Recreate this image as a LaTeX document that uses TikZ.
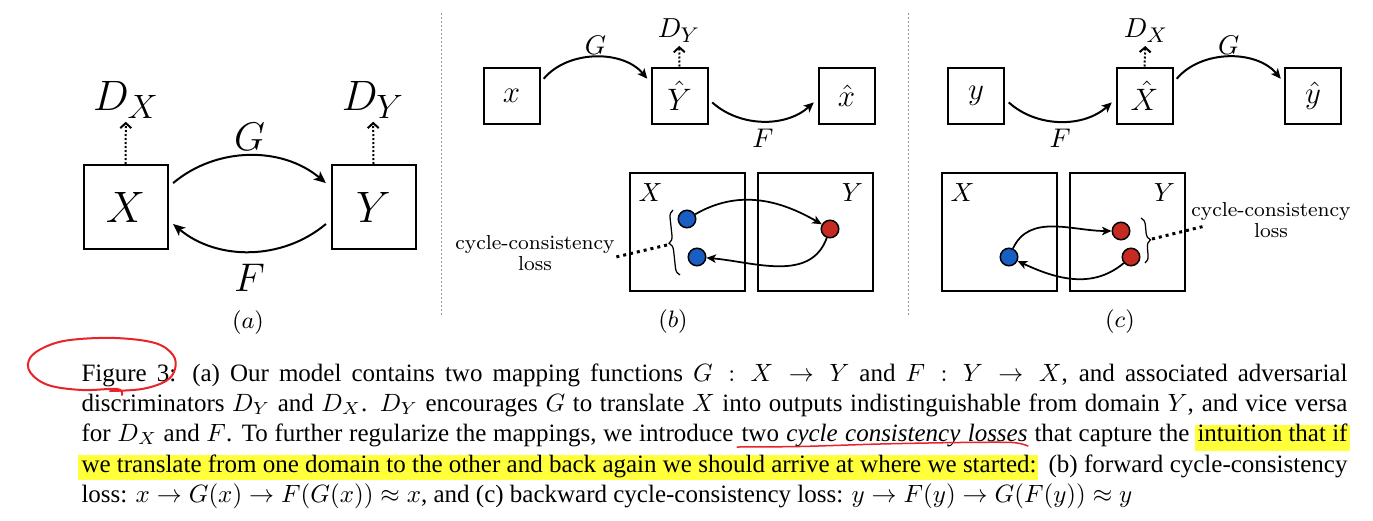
\RequirePackage{fix-cm}
\documentclass[tikz,border=0pt]{standalone}
\usepackage{fontspec}
\usepackage{amsmath}
\usetikzlibrary{arrows.meta,positioning,calc,decorations.pathreplacing}
\newfontfamily\capfont{Liberation Serif}
\definecolor{cdotb}{HTML}{1A5EC4}
\definecolor{cdotr}{HTML}{C62B22}
\definecolor{chl}{HTML}{FFFF3A}
\definecolor{cpen}{HTML}{E8232A}
\newdimen\pxu \pxu=0.4pt
\newcommand{\seg}[2]{\makebox[#1\pxu][s]{#2}}
\newcommand{\dlab}[2]{$D_{\mbox{\fontsize{#2}{#2}\selectfont$#1$}}$}
\tikzset{
  dombox/.style={draw, line width=0.8pt, minimum size=33.6pt, inner sep=0pt, font=\fontsize{17.6}{17.6}\selectfont},
  smbox/.style={draw, line width=0.8pt, minimum size=22.4pt, inner sep=0pt, font=\fontsize{12.4}{12.4}\selectfont},
  setbox/.style={draw, line width=0.8pt, minimum width=46pt, minimum height=47.2pt, inner sep=0pt},
  maplbl/.style={font=\fontsize{16}{16}\selectfont, inner sep=1pt},
  smaplbl/.style={font=\fontsize{10.8}{10.8}\selectfont, inner sep=1pt},
  dlbl/.style={font=\fontsize{17}{17}\selectfont, inner sep=1pt},
  sdlbl/.style={font=\fontsize{11}{11}\selectfont, inner sep=1pt},
  setlbl/.style={font=\fontsize{10.5}{10.5}\selectfont, inner sep=0pt},
  sublbl/.style={font=\fontsize{9.5}{9.5}\selectfont, inner sep=0pt},
  losslbl/.style={font=\fontsize{8.1}{8.3}\selectfont, align=center, inner sep=0pt},
  pnt/.style={circle, draw, line width=0.6pt, minimum size=7pt, inner sep=0pt},
  bpt/.style={pnt, fill=cdotb},
  rpt/.style={pnt, fill=cdotr},
  map/.style={-{Stealth[length=4.8pt,width=4.2pt,inset=1.2pt]}, line width=0.8pt, shorten <=2.4pt, shorten >=2.4pt},
  smap/.style={-{Stealth[length=4pt,width=3.6pt,inset=1pt]}, line width=0.8pt, shorten <=2pt, shorten >=2pt},
  dmap/.style={-{Stealth[length=3.8pt,width=3.4pt,inset=1pt]}, line width=0.7pt},
  disc/.style={-{Straight Barb[length=2pt,width=4.4pt]}, line width=0.8pt, dash pattern=on 0.8pt off 0.8pt},
  lossln/.style={line width=1.2pt, dash pattern=on 1.2pt off 1.6pt},
  brc/.style={decorate, decoration={brace, amplitude=3pt}, line width=0.5pt},
  sepln/.style={black!40, line width=0.4pt, dash pattern=on 0.8pt off 0.8pt},
  capl/.style={anchor=base west, inner sep=0pt, font=\capfont\fontsize{10}{12}\selectfont},
  hl/.style={fill=chl},
  pen/.style={cpen, line width=0.8pt, line cap=round, line join=round},
}
\begin{document}
\begin{tikzpicture}[x=0.4pt,y=0.4pt]
\useasboundingbox (0,0) rectangle (1373,-520);
\fill[white] (0,0) rectangle (1373,-520);

% (a) the two mappings
\node[dombox] (xa) at (125.5,-207) {$X$};
\node[dombox] (ya) at (373.5,-207) {$Y$};
\node[dlbl] (dxa) at (126,-100) {\dlab{X}{13.5}};
\node[dlbl] (dya) at (373,-100) {\dlab{Y}{13.5}};
\draw[disc] (xa.north) -- (dxa);
\draw[disc] (ya.north) -- (dya);
\draw[map] (xa.25) to[bend left=40] node[maplbl, above=1pt] (ga) {$G$} (ya.155);
\draw[map] (ya.-163) to[bend left=40] node[maplbl, below=4pt] (fa) {$F$} (xa.-17);
\node[sublbl] (la) at (248,-323) {$(a)$};

\draw[sepln] (441,-13) -- (441,-315);
\draw[sepln] (908,-13) -- (908,-315);

% (b) forward cycle
\node[smbox] (xb) at (511.5,-95.5) {$x$};
\node[smbox] (yhb) at (679.5,-95.5) {$\hat{Y}$};
\node[smbox] (xhb) at (846.5,-95.5) {$\hat{x}$};
\node[sdlbl] (dyb) at (679,-31) {\dlab{Y}{8.5}};
\draw[disc] (yhb.north) -- (dyb);
\draw[smap] (xb.24) to[bend left=50] node[smaplbl, above=0pt] (gb) {$G$} (yhb.156);
\draw[smap] (yhb.-7) to[bend right=42] node[smaplbl, below=2pt] (fb) {$F$} (xhb.187);
\node[setbox] (xlb) at (687,-231.5) {};
\node[setbox] (ylb) at (815,-231.5) {};
\node[setlbl] (xlbl) at ($(xlb.north west)+(22,-21)$) {$X$};
\node[setlbl] (ylbl) at ($(ylb.north east)+(-21,-21)$) {$Y$};
\node[bpt] (b1) at (687,-219) {};
\node[bpt] (b2) at (697,-257) {};
\node[rpt] (r1) at (830,-229) {};
\draw[dmap] (b1) to[out=30,in=150] (r1);
\draw[dmap] (r1) to[out=-110,in=-5] (b2);
\draw[brc] (680,-275) -- (673,-210);
\coordinate (bt) at (667,-245);
\coordinate (be) at (616,-257);
\draw[lossln] (bt) -- (be);
\node[losslbl] (lossb) at (535,-253) {cycle-consistency\\loss};
\node[sublbl] (lb) at (673,-322) {$(b)$};

% (c) backward cycle
\node[smbox] (yc) at (976,-95.5) {$y$};
\node[smbox] (xhc) at (1144.5,-95.5) {$\hat{X}$};
\node[smbox] (yhc) at (1313,-95.5) {$\hat{y}$};
\node[sdlbl] (dxc) at (1146,-31) {\dlab{X}{8.5}};
\draw[disc] (xhc.north) -- (dxc);
\draw[smap] (yc.-7) to[bend right=42] node[smaplbl, below=2pt] (fc) {$F$} (xhc.187);
\draw[smap] (xhc.24) to[bend left=50] node[smaplbl, above=0pt] (gc) {$G$} (yhc.156);
\node[setbox] (xlc) at (999,-231.5) {};
\node[setbox] (ylc) at (1127,-231.5) {};
\node[setlbl] (xlcl) at ($(xlc.north west)+(22,-21)$) {$X$};
\node[setlbl] (ylcl) at ($(ylc.north east)+(-21,-21)$) {$Y$};
\node[bpt] (b3) at (1009,-257) {};
\node[rpt] (r2) at (1121,-231) {};
\node[rpt] (r3) at (1131,-257) {};
\draw[dmap] (b3) to[out=65,in=180] (r2);
\draw[dmap] (r3) to[out=-140,in=-25] (b3);
\draw[brc] (1141,-218) -- (1145,-263);
\coordinate (ct) at (1152,-239);
\coordinate (ce) at (1205,-226);
\draw[lossln] (ct) -- (ce);
\node[losslbl] (lossc) at (1271,-220) {cycle-consistency\\loss};
\node[sublbl] (lc) at (1120,-322) {$(c)$};

% caption, highlights first
\fill[hl] (1195,-425) rectangle (1350,-451);
\fill[hl] (78,-455) rectangle (1038,-480);
\node[capl] (cap1) at (81,-381) {\seg{1266}{Figure 3: (a) Our model contains two mapping functions $G : X \rightarrow Y$ and $F : Y \rightarrow X$, and associated adversarial}};
\node[capl] (cap2) at (81,-411) {\seg{1266}{discriminators $D_Y$ and $D_X$. $D_Y$ encourages $G$ to translate $X$ into outputs indistinguishable from domain $Y$, and vice versa}};
\node[capl] (cap3a) at (81,-441) {\seg{652}{for $D_X$ and $F$. To further regularize the mappings, we introduce}};
\node[capl] (cap3b) at (741,-441) {\seg{286}{two \emph{cycle consistency losses}}};
\node[capl] (cap3c) at (1034,-441) {\seg{155}{that capture the}};
\node[capl] (cap3d) at (1197,-441) {\seg{150}{intuition that if}};
\node[capl] (cap4a) at (81,-472) {\seg{955}{we translate from one domain to the other and back again we should arrive at where we started:}};
\node[capl] (cap4b) at (1048,-472) {\seg{299}{(b) forward cycle-consistency}};
\node[capl] (cap5) at (81,-502) {loss: $x \rightarrow G(x) \rightarrow F(G(x)) \approx x$, and (c) backward cycle-consistency loss: $y \rightarrow F(y) \rightarrow G(F(y)) \approx y$};

% pen marks
\draw[pen] plot[smooth, tension=0.6] coordinates {(122,-395) (117,-389) (82,-390) (48,-385) (30,-372) (30,-358) (45,-347) (70,-340) (115,-338) (155,-343) (173,-355) (175,-369) (166,-381) (142,-389) (110,-391)};
\draw[pen, line width=0.6pt] plot[smooth] coordinates {(737,-447) (800,-446.5) (880,-444) (960,-442.5) (1012,-442.5) (1028,-446)};
\end{tikzpicture}
\end{document}
